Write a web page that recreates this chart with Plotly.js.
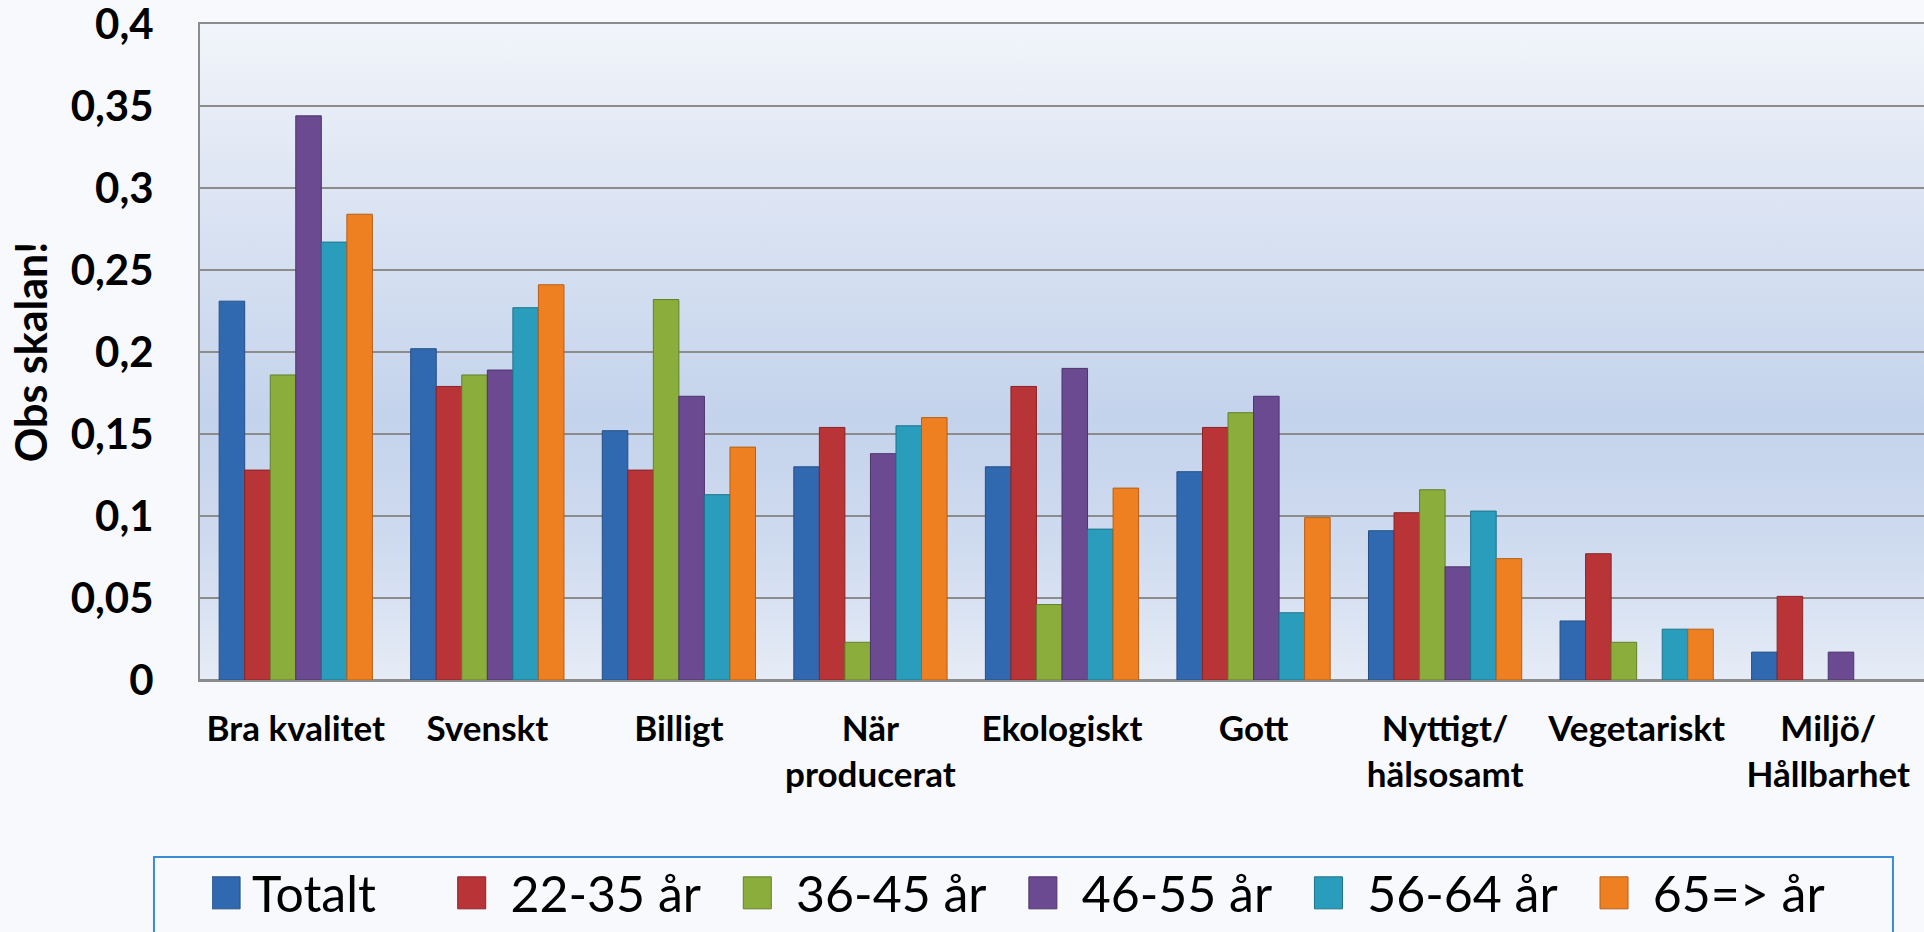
<!DOCTYPE html>
<html>
<head>
<meta charset="utf-8">
<script src="https://cdn.plot.ly/plotly-3.0.1.min.js"></script>
<style>
  html, body { margin: 0; padding: 0; background: #f8f9fd; }
  #chart { width: 1924px; height: 932px; }
</style>
</head>
<body>
<div id="chart"></div>
<script>
// Categories (x-axis tick labels)
const categories = [
  "Bra kvalitet", "Svenskt", "Billigt", "När<br>producerat", "Ekologiskt",
  "Gott", "Nyttigt/<br>hälsosamt", "Vegetariskt", "Miljö/<br>Hållbarhet"
];

// Series names
const seriesNames = ["Totalt", "22-35 år", "36-45 år", "46-55 år", "56-64 år", "65=> år"];

// Series values
const totalt = [0.231, 0.202, 0.152, 0.130, 0.130, 0.127, 0.091, 0.036, 0.017];
const age22_35 = [0.128, 0.179, 0.128, 0.154, 0.179, 0.154, 0.102, 0.077, 0.051];
const age36_45 = [0.186, 0.186, 0.232, 0.023, 0.046, 0.163, 0.116, 0.023, 0];
const age46_55 = [0.344, 0.189, 0.173, 0.138, 0.190, 0.173, 0.069, 0, 0.017];
const age56_64 = [0.267, 0.227, 0.113, 0.155, 0.092, 0.041, 0.103, 0.031, 0];
const age65 = [0.284, 0.241, 0.142, 0.160, 0.117, 0.099, 0.074, 0.031, 0];

const seriesValues = [totalt, age22_35, age36_45, age46_55, age56_64, age65];
const fillColors = ["#3169b1", "#b83436", "#8aad3c", "#6b4a92", "#2a9dbc", "#ee8022"];
const lineColors = ["#244f86", "#8a2426", "#64812a", "#4d346b", "#1d738b", "#b55f17"];

const nb = n => "\u00a0".repeat(n);
const legendLabel = i => {
  if (i === 0) return seriesNames[i] + nb(6);
  const last = i === seriesNames.length - 1;
  return nb(1) + seriesNames[i] + (last ? "" : nb(3));
};

const traces = seriesValues.map((vals, i) => ({
  type: "bar",
  name: legendLabel(i),
  x: categories,
  y: vals,
  marker: {
    color: fillColors[i],
    line: { color: lineColors[i], width: vals.map(v => (v > 0 ? 1 : 0)) }
  },
  hoverinfo: "skip"
}));

const bgSvg = '<svg xmlns="http://www.w3.org/2000/svg" width="10" height="100" preserveAspectRatio="none">' +
  '<defs><linearGradient id="g" x1="0" y1="0" x2="0" y2="1">' +
  '<stop offset="0" stop-color="#f1f4fa"/>' +
  '<stop offset="0.35" stop-color="#d6e0f1"/>' +
  '<stop offset="0.6" stop-color="#c4d3ec"/>' +
  '<stop offset="0.8" stop-color="#cfdbef"/>' +
  '<stop offset="1" stop-color="#e6ecf6"/>' +
  '</linearGradient></defs><rect width="10" height="100" fill="url(#g)"/></svg>';

const layout = {
  width: 1924,
  height: 932,
  margin: { l: 200, r: 0, t: 24, b: 252, pad: 0, autoexpand: false },
  paper_bgcolor: "#f8f9fd",
  plot_bgcolor: "rgba(0,0,0,0)",
  separators: ", ",
  barmode: "group",
  bargap: 0.2,
  bargroupgap: 0,
  font: { family: "Lato, 'Open Sans', sans-serif", color: "#000" },
  images: [{
    source: "data:image/svg+xml;charset=utf-8," + encodeURIComponent(bgSvg),
    xref: "paper", yref: "paper", x: 0, y: 1, sizex: 1, sizey: 1,
    xanchor: "left", yanchor: "top", sizing: "stretch", layer: "below"
  }],
  shapes: [{
    type: "rect", xref: "paper", yref: "paper",
    x0: -0.0267, x1: 0.982, y0: -0.27, y1: -0.40,
    line: { color: "#3a8cd4", width: 2 },
    fillcolor: "rgba(0,0,0,0)",
    layer: "above"
  }],
  xaxis: {
    type: "category",
    showgrid: false,
    showline: true,
    mirror: true,
    linecolor: "#8c8c8c",
    linewidth: 2,
    ticks: "",
    tickfont: { family: "Lato", size: 35, weight: "bold", color: "#000" },
    ticklabelstandoff: 17,
    automargin: false
  },
  yaxis: {
    range: [0, 0.4],
    dtick: 0.05,
    tick0: 0,
    showgrid: true,
    gridcolor: "#8c8c8c",
    gridwidth: 2,
    zeroline: true,
    zerolinecolor: "#8c8c8c",
    zerolinewidth: 2,
    showline: true,
    linecolor: "#8c8c8c",
    linewidth: 2,
    ticks: "",
    ticklabeloverflow: "allow",
    tickfont: { family: "Lato", size: 42, weight: "bold", color: "#000" },
    ticklabelstandoff: 36,
    automargin: false,
    title: {
      text: "Obs skalan!",
      font: { family: "Lato", size: 43, weight: "bold", color: "#000" },
      standoff: 10
    }
  },
  showlegend: true,
  legend: {
    orientation: "h",
    x: 0.007,
    xanchor: "left",
    y: -0.265,
    yanchor: "top",
    bgcolor: "rgba(0,0,0,0)",
    borderwidth: 0,
    font: { family: "Lato", size: 50, color: "#000" },
    traceorder: "normal",
    itemclick: false,
    itemdoubleclick: false
  }
};

Plotly.newPlot("chart", traces, layout, { staticPlot: true, displayModeBar: false }).then(gd => {
  gd.querySelectorAll(".legendpoints path").forEach(p => p.setAttribute("d", "M8,16H-20V-16H8Z"));
});
</script>
</body>
</html>
